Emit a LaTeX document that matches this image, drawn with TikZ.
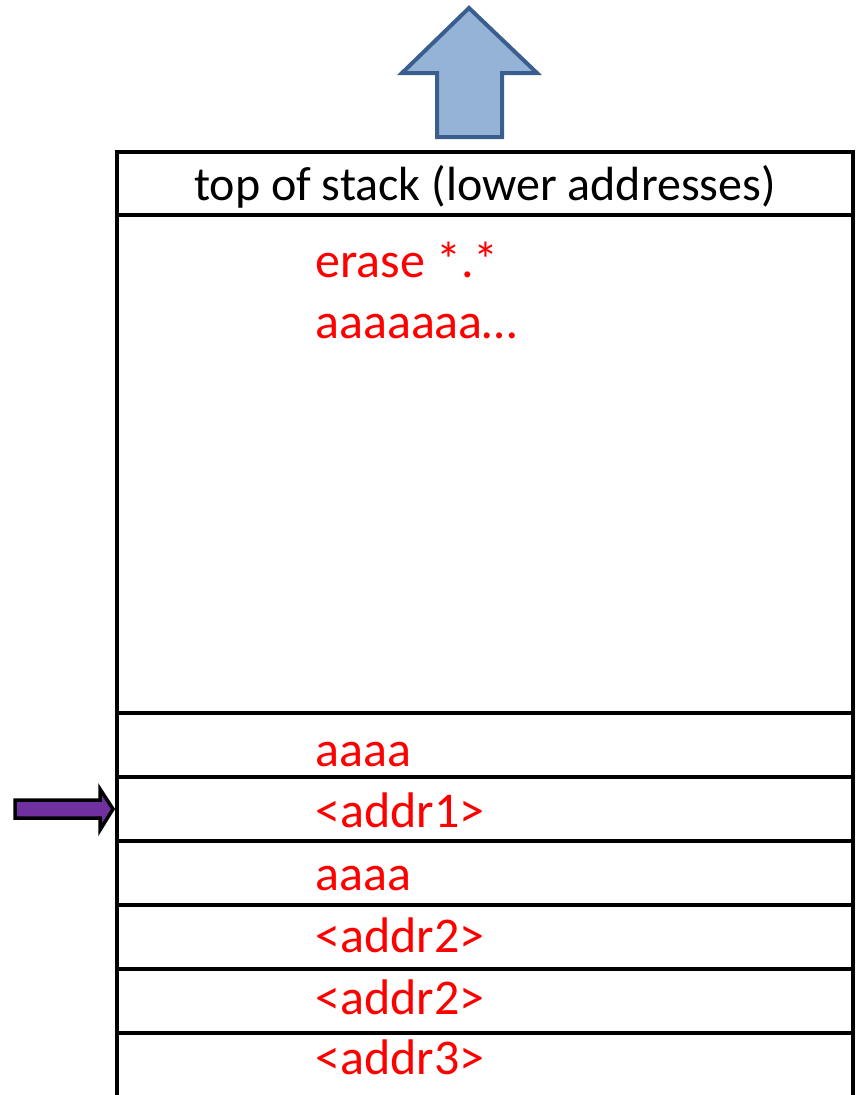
\documentclass[tikz,border=0pt]{standalone}
\usepackage{fontspec}
\setmainfont{Carlito}
\definecolor{arrowfill}{HTML}{95B3D7}
\definecolor{arrowline}{HTML}{3A5F8F}
\definecolor{ptrfill}{HTML}{7030A0}
\begin{document}
\begin{tikzpicture}[x=1pt,y=-1pt,
  cell/.style={line width=4pt},
  slot/.style={anchor=base west,text=red,inner sep=0pt,font=\fontsize{50}{60}\selectfont},
  title/.style={anchor=base,inner sep=0pt,font=\fontsize{48}{58}\selectfont}]
\useasboundingbox (0,0) rectangle (856,1095);

% growth direction arrow
\draw[line width=4pt,line join=miter,draw=arrowline,fill=arrowfill]
  (469,8) -- (537,73) -- (502,73) -- (502,137) -- (437,137) -- (437,73) -- (402,73) -- cycle;

% stack frame outline and slot separators
\draw[cell,line join=miter] (117,1095) -- (117,152) -- (853,152) -- (853,1095);
\foreach \y in {215,713,777,841,905,969,1033}
  \draw[cell] (117,\y) -- (853,\y);

% header
\node[title] (hdr) at (485,200) {top of stack (lower addresses)};

% buffer contents
\node[slot] (erase) at (315,277) {erase *.*};
\node[slot] (fill) at (315,338) {aaaaaaa…};

% saved slots
\node[slot] (s1) at (315,766) {aaaa};
\node[slot] (s2) at (315,827) {<addr1>};
\node[slot] (s3) at (315,890) {aaaa};
\node[slot] (s4) at (315,952) {<addr2>};
\node[slot] (s5) at (315,1014) {<addr2>};
\node[slot] (s6) at (315,1074) {<addr3>};

% pointer marker
\draw[line width=3.5pt,line join=miter,fill=ptrfill]
  (15,800) -- (100,800) -- (100,789) -- (113,809) -- (100,830) -- (100,818) -- (15,818) -- cycle;
\end{tikzpicture}
\end{document}
